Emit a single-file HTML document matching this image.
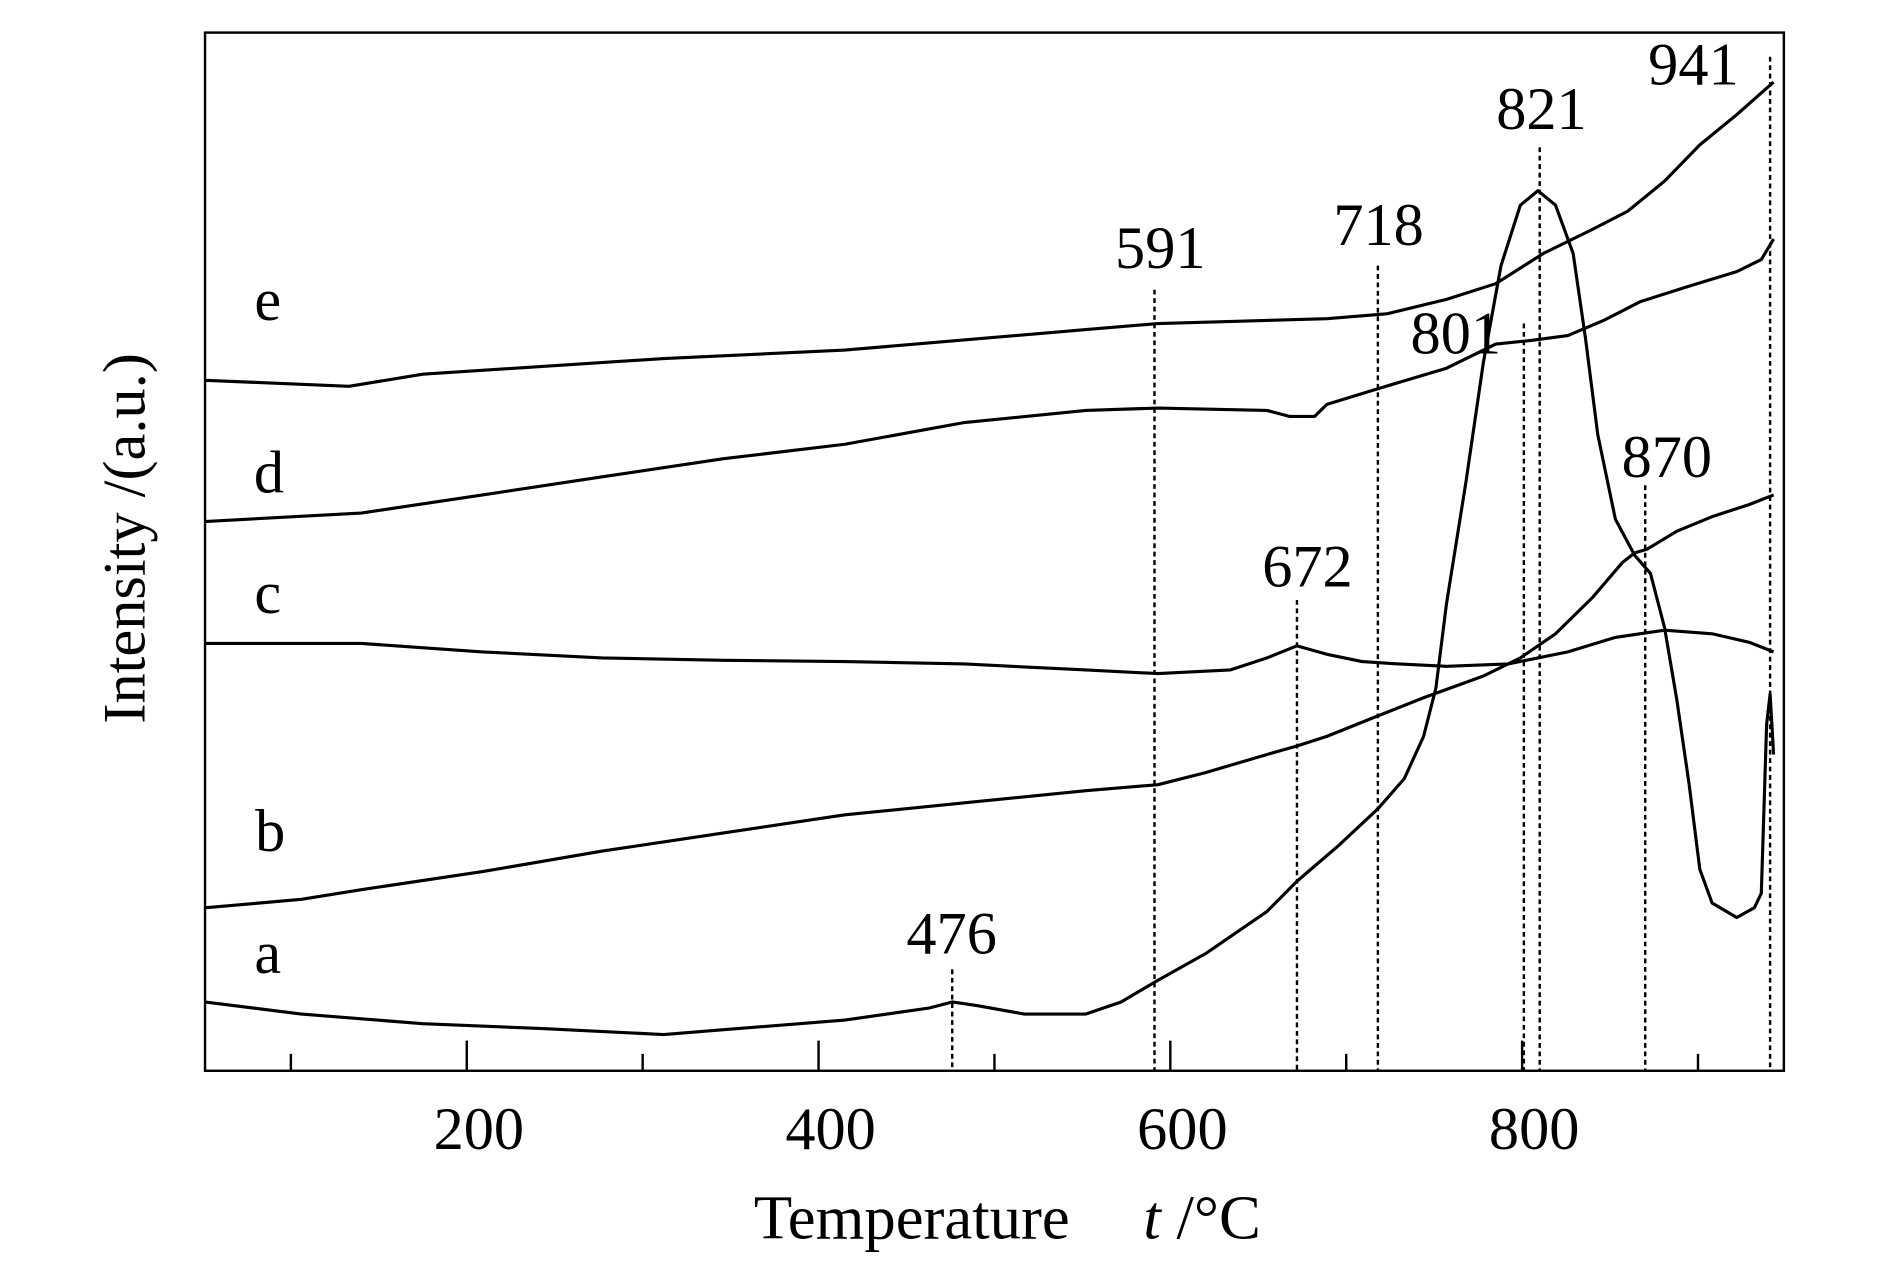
<!DOCTYPE html>
<html><head><meta charset="utf-8"><style>
html,body{margin:0;padding:0;background:#fff;}
svg{display:block;}
text{font-family:"Liberation Serif",serif;fill:#000;}
</style></head><body>
<svg id="chart" width="1890" height="1276" viewBox="0 0 1567 1057" preserveAspectRatio="none" xmlns="http://www.w3.org/2000/svg">
<rect x="170" y="27" width="1309" height="860" fill="none" stroke="#000" stroke-width="2"/>
<g id="ticks"></g><g id="guides"></g><g id="series"></g><g id="labels"></g>
<text transform="translate(120,446) rotate(-90)" text-anchor="middle" font-size="50">Intensity /(a.u.)</text>
<text x="625" y="1026" font-size="52">Temperature</text>
<text x="948" y="1026" font-size="52"><tspan font-style="italic">t</tspan> /°C</text>
</svg>
<script>
const majorTicks=[200,400,600,800];
const minorTicks=[100,300,500,700,900];
const peakTemps=[476,591,672,718,801,810,870,941];
const peakLabels=["476","591","672","718","801","821","870","941"];
const peakTops=[803,240,497,220,268,122,402,47];
const seriesNames=["a","b","c","d","e"];
const tA=[51,106,175,243,312,346,415,463,476,490,517,552,572,593,620,655,672,696,718,733,744,751,757,768,778,788,799,809,819,829,836,843,853,864,873,881,888,895,901,908,922,932,936,939,941,943];
const vA=[57,47,39,35,30,34,42,52,57,54,47,47,57,75,97,132,157,187,217,242,277,317,387,487,587,667,717,729,717,677,607,527,457,427,412,367,307,237,167,139,127,135,147,287,312,262];
const tB=[51,106,140,209,277,346,415,483,552,593,620,655,672,689,718,744,778,799,819,840,857,864,871,888,908,929,943];
const vB=[135,142,150,165,182,197,212,222,232,237,247,262,269,277,294,309,327,342,362,392,421,429,432,447,459,469,477];
const tC=[51,140,209,277,346,415,483,552,593,634,655,672,689,709,730,757,792,826,853,881,908,929,943];
const vC=[354,354,347,342,340,339,337,332,329,332,342,352,345,339,337,335,337,347,359,365,362,355,347];
const tD=[51,140,209,277,346,415,483,552,593,655,668,682,689,718,757,785,805,826,847,867,895,922,936,943];
const vD=[455,462,477,492,507,519,537,547,549,547,542,542,552,565,582,602,605,609,622,637,650,662,672,689];
const tE=[51,133,175,312,415,552,593,689,723,757,785,812,840,860,881,901,922,943];
const vE=[572,567,577,590,597,614,619,623,627,639,652,677,697,712,737,767,792,819];
const seriesT=[tA,tB,tC,tD,tE];
const seriesV=[vA,vB,vC,vD,vE];
const labelPos=[[222,806],[224,705],[222,508],[223,408],[222,265]];
const peakLabelPos=[[789,790],[962,222],[1084,486],[1143,203],[1207,293],[1278,107],[1382,395],[1404,70]];

const NS="http://www.w3.org/2000/svg";
function x(T){return 387+(T-200)*1.4583;}
function y(v){return 887-v;}
function mk(tag,attrs,parent){const e=document.createElementNS(NS,tag);for(const k in attrs)e.setAttribute(k,attrs[k]);parent.appendChild(e);return e;}
const gT=document.getElementById('ticks');
majorTicks.forEach(t=>{
  const l=mk('line',{x1:x(t),x2:x(t),y1:887,y2:862,stroke:'#000','stroke-width':2},gT);
  
  
  const tx=mk('text',{x:x(t)+10,y:952,'text-anchor':'middle','font-size':50},gT);
  tx.textContent=t;
  
  
});
minorTicks.forEach(t=>{
  const l=mk('line',{x1:x(t),x2:x(t),y1:887,y2:873,stroke:'#000','stroke-width':2},gT);
  
  
});
const gG=document.getElementById('guides');
peakTemps.forEach((t,i)=>{
  const l=mk('line',{x1:x(t),x2:x(t),y1:peakTops[i],y2:887,stroke:'#000','stroke-width':2,'stroke-dasharray':'4,3'},gG);
  
  
  const tx=mk('text',{x:peakLabelPos[i][0],y:peakLabelPos[i][1],'text-anchor':'middle','font-size':50},gG);
  tx.textContent=peakLabels[i];
  
  
});
const gS=document.getElementById('series');
seriesT.forEach((ts,i)=>{
  const pts=ts.map((t,j)=>x(t).toFixed(1)+','+y(seriesV[i][j]).toFixed(1)).join(' ');
  const p=mk('polyline',{points:pts,fill:'none',stroke:'#000','stroke-width':2.6,'stroke-linejoin':'round'},gS);
  
  
});
const gL=document.getElementById('labels');
seriesNames.forEach((n,i)=>{
  const tx=mk('text',{x:labelPos[i][0],y:labelPos[i][1],'text-anchor':'middle','font-size':50},gL);
  tx.textContent=n;
  
  
});
</script>
</body></html>
